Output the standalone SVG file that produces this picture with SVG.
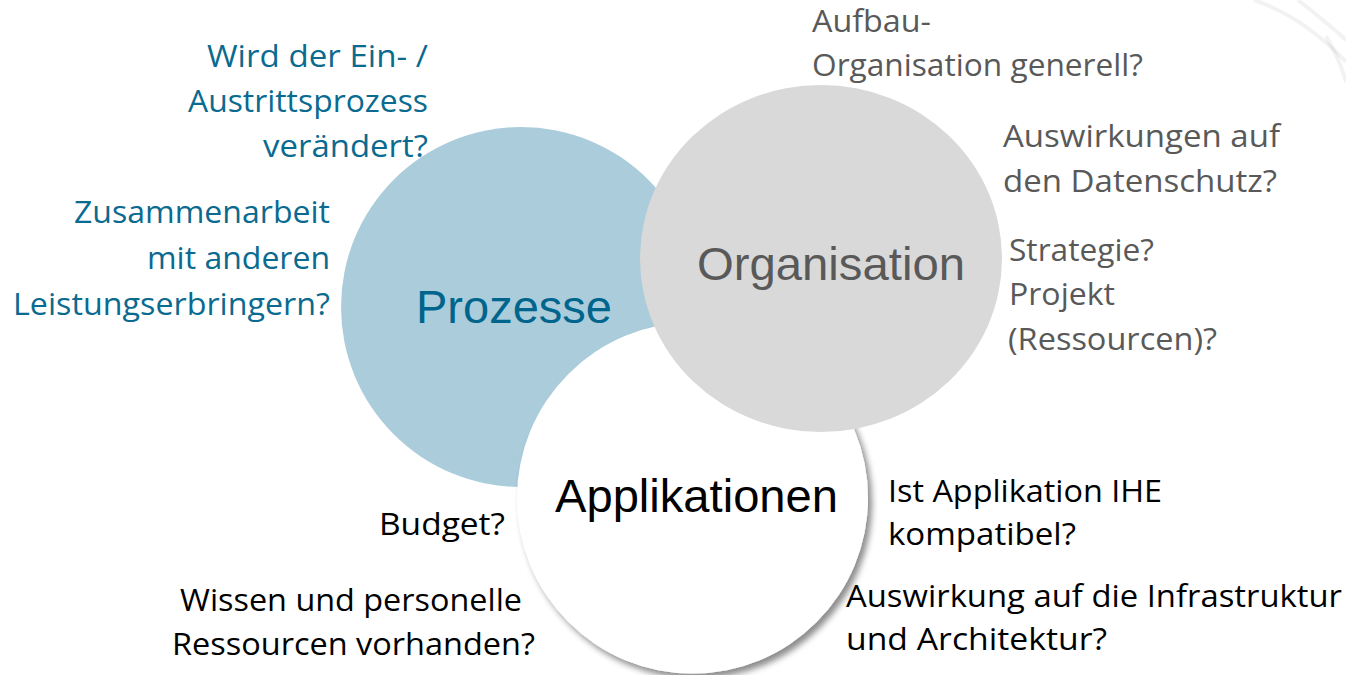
<svg xmlns="http://www.w3.org/2000/svg" width="1346" height="675" viewBox="0 0 1346 675">
  <defs>
    <filter id="shadow" x="-20%" y="-20%" width="140%" height="140%">
      <feDropShadow dx="4" dy="5" stdDeviation="3" flood-color="#000000" flood-opacity="0.45"/>
    </filter>
    <style>
      .lbl { font-family: "Open Sans", "Noto Sans", sans-serif; font-size: 31px; }
      .blue { fill: #0A6A8F; }
      .gray { fill: #595959; }
      .black { fill: #000000; }
      .title { font-family: "Liberation Sans", Arial, sans-serif; font-size: 47px; text-anchor: middle; }
      .deco { fill: none; stroke: #000000; stroke-opacity: 0.05; stroke-width: 4; }
    </style>
  </defs>
  <rect x="0" y="0" width="1346" height="675" fill="#FFFFFF"/>

  <g id="decoration">
    <path class="deco" d="M1254,0 Q1305,18 1346,62"/>
    <path class="deco" d="M1298,0 Q1326,22 1346,40"/>
    <path class="deco" d="M1326,36 Q1340,60 1346,82"/>
  </g>

  <g id="node-prozesse">
    <circle cx="521" cy="307" r="180" fill="#AACCDB"/>
    <text class="title" x="514" y="323" fill="#00658C" textLength="196" lengthAdjust="spacingAndGlyphs">Prozesse</text>
  </g>

  <g id="node-applikationen">
    <circle cx="692.5" cy="498" r="175.5" fill="#FFFFFF" filter="url(#shadow)"/>
    <text class="title" x="696.5" y="512" fill="#000000" textLength="283" lengthAdjust="spacingAndGlyphs">Applikationen</text>
  </g>

  <g id="node-organisation">
    <ellipse cx="821" cy="258.5" rx="181" ry="173.5" fill="#D9D9D9"/>
    <text class="title" x="831" y="280" fill="#595959" textLength="268" lengthAdjust="spacingAndGlyphs">Organisation</text>
  </g>

  <g id="connectors"></g>

  <g id="labels-prozesse" class="lbl blue" text-anchor="end">
    <text x="428" y="67" textLength="221" lengthAdjust="spacingAndGlyphs">Wird der Ein- /</text>
    <text x="428" y="112" textLength="240" lengthAdjust="spacingAndGlyphs">Austrittsprozess</text>
    <text x="428" y="157" textLength="165" lengthAdjust="spacingAndGlyphs">verändert?</text>
    <text x="330" y="223" textLength="256" lengthAdjust="spacingAndGlyphs">Zusammenarbeit</text>
    <text x="330" y="269" textLength="183" lengthAdjust="spacingAndGlyphs">mit anderen</text>
    <text x="330" y="315" textLength="317" lengthAdjust="spacingAndGlyphs">Leistungserbringern?</text>
  </g>

  <g id="labels-organisation" class="lbl gray">
    <text x="812" y="32" textLength="119" lengthAdjust="spacingAndGlyphs">Aufbau-</text>
    <text x="812" y="76" textLength="331" lengthAdjust="spacingAndGlyphs">Organisation generell?</text>
    <text x="1003" y="147" textLength="277" lengthAdjust="spacingAndGlyphs">Auswirkungen auf</text>
    <text x="1003" y="192" textLength="274" lengthAdjust="spacingAndGlyphs">den Datenschutz?</text>
    <text x="1009" y="261" textLength="145" lengthAdjust="spacingAndGlyphs">Strategie?</text>
    <text x="1009" y="305" textLength="106" lengthAdjust="spacingAndGlyphs">Projekt</text>
    <text x="1008" y="350" textLength="209" lengthAdjust="spacingAndGlyphs">(Ressourcen)?</text>
  </g>

  <g id="labels-applikationen" class="lbl black">
    <text x="379" y="535" textLength="126" lengthAdjust="spacingAndGlyphs">Budget?</text>
    <text x="180" y="611" textLength="342" lengthAdjust="spacingAndGlyphs">Wissen und personelle</text>
    <text x="172" y="655" textLength="363" lengthAdjust="spacingAndGlyphs">Ressourcen vorhanden?</text>
    <text x="888" y="502" textLength="274" lengthAdjust="spacingAndGlyphs">Ist Applikation IHE</text>
    <text x="888" y="545" textLength="188" lengthAdjust="spacingAndGlyphs">kompatibel?</text>
    <text x="846" y="607" textLength="496" lengthAdjust="spacingAndGlyphs">Auswirkung auf die Infrastruktur</text>
    <text x="846" y="650" textLength="261" lengthAdjust="spacingAndGlyphs">und Architektur?</text>
  </g>
</svg>
